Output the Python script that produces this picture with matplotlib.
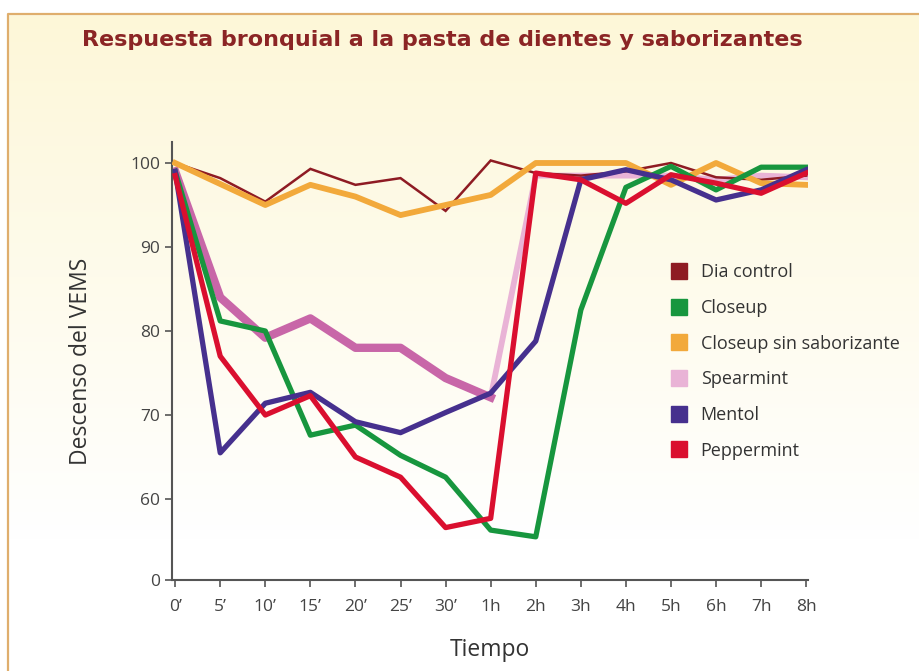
import numpy as np
import matplotlib
matplotlib.use("Agg")
import matplotlib.pyplot as plt
from matplotlib.lines import Line2D
from matplotlib.patches import Rectangle

plt.rcParams['font.family'] = ['Open Sans', 'DejaVu Sans']

time_labels = ["0\u2019", "5\u2019", "10\u2019", "15\u2019", "20\u2019", "25\u2019", "30\u2019",
               "1h", "2h", "3h", "4h", "5h", "6h", "7h", "8h"]

dia_control = [100, 98.2, 95.4, 99.3, 97.4, 98.2, 94.3, 100.3, 98.8, 98.5, 99.0, 100.0, 98.3, 98.0, 98.5]
closeup = [99, 81.2, 80.0, 67.6, 68.8, 65.2, 62.6, 56.3, 55.5, 82.5, 97.1, 99.6, 96.8, 99.5, 99.5]
closeup_sin = [100, 97.5, 95.0, 97.4, 96.0, 93.8, 95.0, 96.2, 100, 100, 100, 97.4, 100, 97.6, 97.4]
spearmint = [99, 84.0, 79.2, 81.5, 78.0, 78.0, 74.4, 72.1, 98.5, 98.5, 98.5, 98.5, 98.0, 98.5, 98.3]
mentol = [99, 65.5, 71.4, 72.7, 69.2, 67.9, 70.3, 72.6, 78.8, 98.0, 99.2, 98.0, 95.6, 96.8, 99.2]
peppermint = [98.5, 77.0, 70.0, 72.3, 65.0, 62.6, 56.6, 57.7, 98.8, 98.0, 95.2, 98.6, 97.6, 96.4, 98.8]

y_ticks = [50.36, 60, 70, 80, 90, 100]
y_tick_labels = ["0", "60", "70", "80", "90", "100"]

names = ["Dia control", "Closeup", "Closeup sin saborizante", "Spearmint", "Mentol", "Peppermint"]
legend_colors = ["#8e1b23", "#17963e", "#f2a93b", "#e9b3d6", "#46308e", "#da0f2f"]

W, H = 920, 671
fig = plt.figure(figsize=(W / 100, H / 100), dpi=100)

# background gradient
bg = fig.add_axes([0, 0, 1, 1], zorder=-5)
bg.set_axis_off()
grad = np.linspace(0, 1, 256).reshape(-1, 1)
top = np.array([253, 247, 216]) / 255
bot = np.array([255, 255, 255]) / 255
t = np.clip(grad / 0.8, 0, 1)
img = top * (1 - t[..., None]) + bot * t[..., None]
img = img.reshape(256, 1, 3)
bg.imshow(np.repeat(img, 2, axis=1), aspect='auto', extent=[0, 1, 0, 1 - 14 / H],
          origin='upper')
bg.set_xlim(0, 1)
bg.set_ylim(0, 1)
bg.add_patch(Rectangle((0, 1 - 14 / H), 1, 14 / H, color='white', zorder=2))
bg.add_patch(Rectangle((0, 0), 8 / W, 1, color='white', zorder=2))
bg.plot([8 / W, 8 / W, 1], [0, 1 - 14 / H, 1 - 14 / H], color='#dfae6d', lw=1.6, zorder=3)

ax = fig.add_axes([172 / W, 91 / H, 636 / W, 438 / H])
ax.set_facecolor('none')
x = np.arange(len(time_labels))

ax.plot(x, dia_control, color="#8e1b23", lw=1.8, zorder=3, solid_joinstyle='miter')
ax.plot(x, spearmint, color="#e9b3d6", lw=4.2, zorder=2)
ax.plot(x[:8], spearmint[:8], color="#c866a8", lw=6.0, zorder=2)
ax.plot(x, closeup_sin, color="#f2a93b", lw=4.2, zorder=3)
ax.plot(x, closeup, color="#17963e", lw=3.8, zorder=4)
ax.plot(x, mentol, color="#46308e", lw=3.8, zorder=5)
ax.plot(x, peppermint, color="#da0f2f", lw=3.8, zorder=6)

ax.set_xlim(-0.07, 14.04)
ax.set_ylim(50.36, 102.5)
ax.set_xticks(x)
ax.set_xticklabels(time_labels)
ax.set_yticks(y_ticks)
ax.set_yticklabels(y_tick_labels)
for s in ['top', 'right']:
    ax.spines[s].set_visible(False)
for s in ['left', 'bottom']:
    ax.spines[s].set_color('#555555')
    ax.spines[s].set_linewidth(1.5)
ax.tick_params(axis='both', colors='#555555', width=1.2, length=5,
               labelsize=12.5, labelcolor='#444444')
ax.tick_params(axis='x', pad=9)

ax.set_ylabel("Descenso del VEMS", fontsize=16.5, color='#333333', labelpad=27)
ax.set_xlabel("Tiempo", fontsize=16.5, color='#333333', labelpad=16)

fig.text(82 / W, 1 - 40 / H, "Respuesta bronquial a la pasta de dientes y saborizantes",
         fontsize=16, fontweight='bold', color='#8b2525', va='center', ha='left',
         family=['DejaVu Sans'])

handles = [Line2D([0], [0], marker='s', linestyle='none', markersize=11,
                  markerfacecolor=c, markeredgecolor=c) for c in legend_colors]
leg = fig.legend(handles, names, loc='upper left', bbox_to_anchor=(661 / W, 1 - 256 / H),
                 frameon=False, fontsize=13, labelspacing=0.98, handletextpad=0.6,
                 handlelength=1.2, borderaxespad=0)
for txt in leg.get_texts():
    txt.set_color('#333333')

fig.savefig("out.png", dpi=100)
